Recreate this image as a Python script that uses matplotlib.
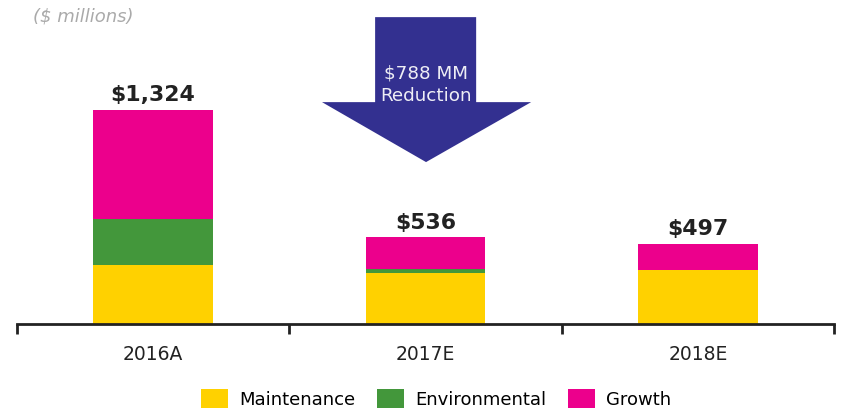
import matplotlib.pyplot as plt
from matplotlib.patches import Polygon
import numpy as np

categories = ["2016A", "2017E", "2018E"]
maintenance = [365, 316, 333]
environmental = [285, 25, 0]
growth = [674, 195, 164]
totals = ["$1,324", "$536", "$497"]
series_names = ["Maintenance", "Environmental", "Growth"]
colors = ["#FFD100", "#43973B", "#EC008C"]

plt.rcParams['font.family'] = ['DejaVu Sans']

fig = plt.figure(figsize=(8.42, 4.13), dpi=100)
ax = fig.add_axes([17 / 842, 89 / 413, 817 / 842, 324 / 413])

x = np.arange(len(categories))
width = 0.44
bottom = np.zeros(len(categories))
handles = []
for name, vals, c in zip(series_names, [maintenance, environmental, growth], colors):
    h = ax.bar(x, vals, width, bottom=bottom, color=c, label=name, linewidth=0)
    handles.append(h)
    bottom += np.array(vals)

for xi, top, lab in zip(x, bottom, totals):
    ax.text(xi, top + 30, lab, ha="center", va="bottom", fontsize=15.8,
            fontweight="bold", color="#222222")

ax.set_xlim(-0.5, 2.5)
ax.set_ylim(0, 2005)
ax.set_yticks([])
for s in ["left", "right", "top"]:
    ax.spines[s].set_visible(False)
ax.spines["bottom"].set_linewidth(2)
ax.spines["bottom"].set_color("#222222")
ax.set_xticks([-0.5, 0.5, 1.5, 2.5])
ax.set_xticklabels([])
ax.set_xticks(x, minor=True)
ax.set_xticklabels(categories, minor=True, fontsize=13.5, color="#222222")
ax.tick_params(axis="x", which="major", length=7, width=2, color="#222222")
ax.tick_params(axis="x", which="minor", length=0, pad=15)

# reduction arrow above the 2017E bar
arrow = Polygon([(0.815, 1899), (1.186, 1899), (1.186, 1373), (1.388, 1373),
                 (1.002, 1002), (0.62, 1373), (0.815, 1373)],
                closed=True, facecolor="#333090", edgecolor="none")
ax.add_patch(arrow)
ax.text(1.002, 1480, "$788 MM\nReduction", ha="center", va="center",
        fontsize=13.2, color="#EEEEF5", linespacing=1.3)

fig.text(33 / 842, 1 - 16 / 413, "($ millions)", ha="left", va="center",
         fontsize=13, style="italic", color="#AAAAAA")

fig.legend(handles=handles, loc="center", bbox_to_anchor=(436 / 842, 1 - 399 / 413),
           ncol=3, frameon=False, fontsize=13, handlelength=1.5,
           handleheight=1.25, columnspacing=1.2, handletextpad=0.6)

fig.savefig("out.png", dpi=100)
